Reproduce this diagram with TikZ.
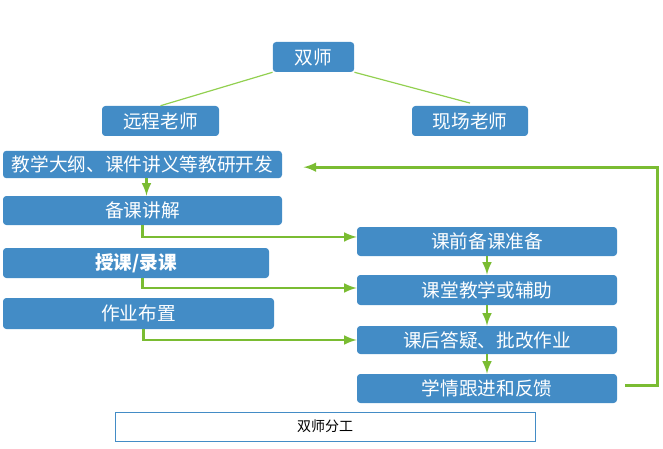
\documentclass[tikz,border=0pt]{standalone}
\usepackage{fontspec}
\setmainfont{Noto Sans CJK SC}
\definecolor{boxblue}{RGB}{67,140,198}
\definecolor{arrowgreen}{RGB}{122,188,50}
\definecolor{linegreen}{RGB}{146,208,80}
\begin{document}
\begin{tikzpicture}[x=0.75pt,y=-0.75pt,
    box/.style={fill=boxblue,text=white,rounded corners=2.5pt,inner sep=0pt,font=\fontsize{14}{16}\selectfont},
    garrow/.style={draw=arrowgreen,line width=2.2pt,-latex},
    thinline/.style={draw=linegreen,line width=0.9pt}]
    \useasboundingbox (0,0) rectangle (663,449);
    % top level
    \node[box,minimum width=61pt,minimum height=22.5pt] (shi) at (313.5,57) {双师};
    \node[box,minimum width=87.75pt,minimum height=22.5pt] (yuan) at (160.5,121) {远程老师};
    \node[box,minimum width=87pt,minimum height=22.5pt] (xian) at (470,121) {现场老师};
    \draw[thinline] (shi.south west) -- (yuan.north);
    \draw[thinline] (shi.south east) -- ([yshift=2pt]xian.north);
    % remote teacher tasks
    \node[box,minimum width=209.25pt,minimum height=20.5pt] (jiaoyan) at (142.5,164.5) {教学大纲、课件讲义等教研开发};
    \node[box,minimum width=209.25pt,minimum height=21.75pt] (beike) at (142.5,210.5) {备课讲解};
    \node[box,minimum width=199.5pt,minimum height=22.5pt,font=\fontsize{14}{16}\selectfont\bfseries] (shouke) at (136,263) {授课/录课};
    \node[box,minimum width=203.25pt,minimum height=23.25pt] (zuoye) at (138.5,313.5) {作业布置};
    % on-site teacher tasks
    \node[box,minimum width=195pt,minimum height=21.75pt] (qian) at (487,241.5) {课前备课准备};
    \node[box,minimum width=195pt,minimum height=22.5pt] (ketang) at (487,290) {课堂教学或辅助};
    \node[box,minimum width=195pt,minimum height=21pt] (kehou) at (487,340) {课后答疑、批改作业};
    \node[box,minimum width=195pt,minimum height=21.75pt] (xueqing) at (487,388.5) {学情跟进和反馈};
    % caption
    \node[draw=boxblue,line width=0.6pt,minimum width=315pt,minimum height=21.75pt,inner sep=0pt,font=\fontsize{10.5}{12}\selectfont] (fengong) at (325,426.5) {双师分工};
    % arrows
    \draw[garrow] ([xshift=3pt]jiaoyan.south) -- ([xshift=3pt]beike.north);
    \draw[garrow] (beike.south) |- ([yshift=3.4pt]qian.west);
    \draw[garrow] ([xshift=5pt]shouke.south) |- ([yshift=1.5pt]ketang.west);
    \draw[garrow] ([xshift=3.4pt]zuoye.south) |- (kehou.west);
    \draw[garrow] (qian.south) -- (ketang.north);
    \draw[garrow] (ketang.south) -- (kehou.north);
    \draw[garrow] (kehou.south) -- (xueqing.north);
    \draw[garrow,shorten <=6pt,shorten >=16pt] ([yshift=2.5pt]xueqing.east) -- ++(40,0) |- ([yshift=-2pt]jiaoyan.east);
\end{tikzpicture}
\end{document}
